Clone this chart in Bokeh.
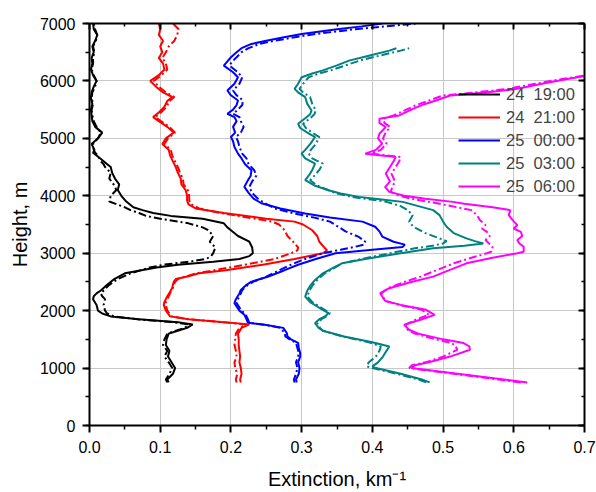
from bokeh.plotting import figure
from bokeh.models import (Range1d, LinearAxis, SingleIntervalTicker, FixedTicker, PrintfTickFormatter,
                          Legend, LegendItem, CustomJSTickFormatter)
from bokeh.embed import file_html
from bokeh.resources import INLINE

# ---------------- data ----------------
legend_labels = ["24  19:00", "24  21:00", "25  00:00", "25  03:00", "25  06:00"]
colors = ["#000000", "#ff0000", "#0000ff", "#008080", "#ff00ff"]

h_a = [750, 800, 900, 1000, 1100, 1200, 1300, 1400, 1500, 1600, 1650, 1700, 1760, 1800, 1850, 1900,
       1950, 2000, 2100, 2200, 2250, 2300, 2350, 2450, 2550, 2650, 2750, 2800, 2850, 2900, 2950, 3000,
       3100, 3200, 3300, 3400, 3450, 3520, 3600, 3650, 3700, 3750, 3800, 3900, 4000, 4100, 4200, 4300,
       4400, 4500, 4550, 4600, 4700, 4750, 4800, 4900, 5000, 5100, 5200, 5300, 5400, 5500, 5600, 5700,
       5800, 5900, 6000, 6100, 6200, 6300, 6400, 6500, 6600, 6700, 6800, 6900, 7000]
x_a = [0.112, 0.110, 0.118, 0.121, 0.116, 0.111, 0.113, 0.108, 0.109, 0.112, 0.125, 0.138, 0.146, 0.125,
       0.070, 0.030, 0.018, 0.012, 0.010, 0.005, 0.006, 0.010, 0.016, 0.025, 0.035, 0.050, 0.095, 0.125,
       0.175, 0.212, 0.226, 0.231, 0.230, 0.226, 0.210, 0.200, 0.195, 0.190, 0.160, 0.115, 0.090, 0.075,
       0.062, 0.052, 0.045, 0.040, 0.042, 0.036, 0.032, 0.030, 0.025, 0.020, 0.010, 0.005, 0.007, 0.003,
       0.012, 0.018, 0.008, 0.004, 0.003, 0.002, 0.004, 0.002, 0.003, 0.006, 0.010, 0.005, 0.002, 0.004,
       0.003, 0.006, 0.004, 0.008, 0.011, 0.006, 0.005]
x_a_dd = [0.110, 0.108, 0.113, 0.117, 0.112, 0.106, 0.110, 0.104, 0.106, 0.110, 0.122, 0.135, 0.140, 0.118,
          0.068, 0.035, 0.025, 0.022, 0.020, 0.022, 0.018, 0.016, 0.020, 0.028, 0.040, 0.058, 0.085, 0.105,
          0.140, 0.165, 0.172, 0.175, 0.178, 0.170, 0.175, 0.168, 0.160, 0.140, 0.100, 0.080, 0.070, 0.058,
          0.050, 0.028, 0.030, 0.038, 0.034, 0.028, 0.030, 0.022, 0.020, 0.016, 0.012, 0.008, 0.006, 0.005,
          0.012, 0.016, 0.010, 0.006, 0.004, 0.003, 0.005, 0.003, 0.004, 0.008, 0.010, 0.006, 0.003, 0.005,
          0.005, 0.007, 0.005, 0.009, 0.011, 0.008, 0.006]

h_b = [750, 800, 900, 1000, 1100, 1200, 1300, 1400, 1500, 1600, 1700, 1760, 1800, 1850, 1900, 2000, 2100,
       2150, 2250, 2330, 2400, 2500, 2550, 2600, 2650, 2700, 2800, 2900, 3000, 3050, 3100, 3200, 3300,
       3400, 3500, 3550, 3600, 3700, 3780, 3850, 3920, 4000, 4100, 4200, 4300, 4400, 4500, 4600, 4700,
       4800, 4900, 5000, 5100, 5200, 5300, 5370, 5450, 5550, 5650, 5720, 5800, 5900, 6000, 6100, 6200,
       6300, 6400, 6500, 6600, 6700, 6800, 6900, 7000]
x_b = [0.214, 0.213, 0.215, 0.214, 0.212, 0.213, 0.212, 0.211, 0.211, 0.210, 0.215, 0.226, 0.190, 0.140,
       0.114, 0.108, 0.105, 0.106, 0.110, 0.114, 0.117, 0.119, 0.122, 0.140, 0.155, 0.190, 0.245, 0.290,
       0.330, 0.336, 0.332, 0.325, 0.322, 0.315, 0.302, 0.290, 0.250, 0.190, 0.150, 0.140, 0.138, 0.138,
       0.136, 0.130, 0.129, 0.125, 0.122, 0.118, 0.114, 0.112, 0.103, 0.108, 0.119, 0.110, 0.098, 0.090,
       0.098, 0.106, 0.110, 0.117, 0.104, 0.094, 0.086, 0.098, 0.106, 0.104, 0.098, 0.103, 0.100, 0.104,
       0.098, 0.100, 0.098]
x_b_dd = [0.208, 0.207, 0.209, 0.206, 0.205, 0.208, 0.207, 0.205, 0.206, 0.207, 0.212, 0.222, 0.188, 0.140,
          0.116, 0.110, 0.108, 0.108, 0.112, 0.115, 0.118, 0.121, 0.125, 0.138, 0.150, 0.175, 0.220, 0.262,
          0.285, 0.294, 0.295, 0.288, 0.280, 0.276, 0.268, 0.258, 0.235, 0.185, 0.155, 0.144, 0.141, 0.141,
          0.139, 0.133, 0.132, 0.128, 0.125, 0.121, 0.117, 0.115, 0.106, 0.111, 0.121, 0.113, 0.101, 0.093,
          0.101, 0.109, 0.113, 0.120, 0.108, 0.098, 0.091, 0.102, 0.110, 0.108, 0.103, 0.108, 0.112, 0.120,
          0.124, 0.126, 0.118]

h_c = [750, 800, 900, 1000, 1100, 1200, 1260, 1350, 1440, 1500, 1550, 1610, 1700, 1750, 1790, 1850, 1930,
       2000, 2130, 2200, 2300, 2360, 2450, 2505, 2590, 2700, 2800, 2900, 3000, 3060, 3110, 3150, 3200,
       3290, 3380, 3460, 3550, 3620, 3690, 3780, 3870, 3950, 4050, 4155, 4250, 4350, 4444, 4550, 4650,
       4734, 4850, 4950, 5023, 5100, 5200, 5300, 5370, 5428, 5500, 5580, 5660, 5750, 5833, 5950, 6064,
       6150, 6267, 6340, 6412, 6500, 6570, 6644, 6700, 6760, 6817, 6900, 6950, 7000]
x_c = [0.293, 0.292, 0.296, 0.297, 0.295, 0.298, 0.298, 0.296, 0.295, 0.285, 0.280, 0.279, 0.274, 0.250,
       0.224, 0.222, 0.219, 0.212, 0.205, 0.207, 0.212, 0.214, 0.222, 0.229, 0.252, 0.275, 0.295, 0.320,
       0.348, 0.400, 0.443, 0.446, 0.430, 0.414, 0.410, 0.404, 0.386, 0.340, 0.305, 0.270, 0.243, 0.232,
       0.225, 0.219, 0.223, 0.228, 0.229, 0.220, 0.215, 0.210, 0.205, 0.203, 0.200, 0.206, 0.203, 0.208,
       0.205, 0.195, 0.203, 0.208, 0.210, 0.200, 0.195, 0.205, 0.210, 0.203, 0.190, 0.195, 0.200, 0.208,
       0.215, 0.229, 0.250, 0.275, 0.300, 0.350, 0.385, 0.414]
x_c_dd = [0.290, 0.289, 0.292, 0.294, 0.292, 0.295, 0.296, 0.294, 0.292, 0.283, 0.277, 0.276, 0.270, 0.250,
          0.226, 0.224, 0.221, 0.215, 0.208, 0.210, 0.214, 0.216, 0.224, 0.232, 0.250, 0.268, 0.285, 0.305,
          0.330, 0.355, 0.375, 0.388, 0.390, 0.380, 0.362, 0.352, 0.340, 0.318, 0.290, 0.262, 0.248, 0.238,
          0.230, 0.226, 0.230, 0.236, 0.233, 0.225, 0.222, 0.216, 0.212, 0.210, 0.207, 0.214, 0.218, 0.214,
          0.212, 0.203, 0.210, 0.216, 0.217, 0.208, 0.203, 0.212, 0.216, 0.210, 0.198, 0.202, 0.208, 0.215,
          0.225, 0.240, 0.262, 0.290, 0.320, 0.375, 0.420, 0.462]

h_d = [750, 800, 900, 1000, 1030, 1100, 1200, 1300, 1377, 1450, 1550, 1650, 1700, 1783, 1850, 1900, 1956,
       2050, 2150, 2245, 2350, 2450, 2535, 2650, 2750, 2824, 2900, 3000, 3085, 3130, 3170, 3210, 3258,
       3350, 3460, 3550, 3663, 3750, 3820, 3894, 3940, 3981, 4040, 4097, 4180, 4271, 4350, 4450, 4560,
       4650, 4734, 4800, 4900, 5023, 5100, 5180, 5255, 5350, 5420, 5486, 5600, 5717, 5800, 5862, 5950,
       6064, 6130, 6180, 6270, 6354, 6440, 6528, 6570]
x_d = [0.481, 0.470, 0.440, 0.405, 0.400, 0.408, 0.415, 0.420, 0.424, 0.400, 0.360, 0.330, 0.324, 0.319,
       0.325, 0.333, 0.338, 0.325, 0.312, 0.305, 0.308, 0.313, 0.319, 0.330, 0.345, 0.357, 0.390, 0.440,
       0.486, 0.530, 0.557, 0.545, 0.533, 0.515, 0.505, 0.500, 0.495, 0.486, 0.465, 0.443, 0.410, 0.381,
       0.355, 0.338, 0.318, 0.305, 0.310, 0.315, 0.319, 0.305, 0.300, 0.305, 0.312, 0.319, 0.308, 0.298,
       0.295, 0.305, 0.312, 0.314, 0.308, 0.305, 0.295, 0.290, 0.295, 0.300, 0.315, 0.329, 0.350, 0.367,
       0.395, 0.424, 0.434]
x_d_dd = [0.476, 0.465, 0.435, 0.400, 0.392, 0.395, 0.405, 0.410, 0.412, 0.395, 0.358, 0.330, 0.326, 0.322,
          0.328, 0.335, 0.340, 0.328, 0.315, 0.308, 0.311, 0.316, 0.322, 0.333, 0.347, 0.358, 0.385, 0.425,
          0.460, 0.485, 0.500, 0.505, 0.495, 0.475, 0.458, 0.452, 0.457, 0.450, 0.440, 0.420, 0.395, 0.370,
          0.350, 0.338, 0.322, 0.312, 0.318, 0.325, 0.330, 0.315, 0.310, 0.313, 0.320, 0.325, 0.315, 0.306,
          0.302, 0.312, 0.318, 0.320, 0.315, 0.312, 0.302, 0.297, 0.302, 0.310, 0.325, 0.340, 0.362, 0.382,
          0.410, 0.440, 0.452]

h_e = [750, 1000, 1050, 1100, 1200, 1319, 1380, 1436, 1500, 1600, 1667, 1753, 1850, 1927, 2014, 2100, 2170,
       2245, 2303, 2390, 2500, 2592, 2700, 2824, 2920, 3000, 3026, 3113, 3170, 3229, 3300, 3373, 3430,
       3490, 3580, 3663, 3750, 3800, 3860, 3894, 3950, 4000, 4068, 4150, 4250, 4387, 4500, 4600, 4676,
       4734, 4800, 4908, 5000, 5081, 5197, 5270, 5342, 5399, 5500, 5580, 5660, 5747, 5800, 5862, 5950,
       6020, 6094]
x_e = [0.619, 0.455, 0.460, 0.480, 0.510, 0.538, 0.537, 0.529, 0.500, 0.465, 0.452, 0.445, 0.470, 0.488,
       0.476, 0.440, 0.418, 0.414, 0.411, 0.424, 0.455, 0.486, 0.508, 0.533, 0.570, 0.605, 0.614, 0.614,
       0.608, 0.605, 0.612, 0.610, 0.600, 0.605, 0.598, 0.593, 0.595, 0.570, 0.530, 0.514, 0.475, 0.445,
       0.424, 0.418, 0.425, 0.419, 0.425, 0.430, 0.433, 0.390, 0.405, 0.414, 0.408, 0.410, 0.419, 0.410,
       0.410, 0.438, 0.455, 0.470, 0.490, 0.510, 0.560, 0.605, 0.640, 0.670, 0.705]
x_e_dd = [0.610, 0.452, 0.456, 0.475, 0.500, 0.520, 0.518, 0.512, 0.490, 0.460, 0.450, 0.447, 0.462, 0.480,
          0.470, 0.438, 0.418, 0.415, 0.413, 0.422, 0.445, 0.468, 0.490, 0.515, 0.540, 0.562, 0.568, 0.570,
          0.565, 0.560, 0.566, 0.562, 0.555, 0.560, 0.552, 0.548, 0.540, 0.520, 0.495, 0.480, 0.455, 0.438,
          0.426, 0.428, 0.432, 0.427, 0.433, 0.438, 0.440, 0.398, 0.412, 0.420, 0.415, 0.418, 0.425, 0.417,
          0.416, 0.430, 0.448, 0.462, 0.480, 0.500, 0.545, 0.592, 0.630, 0.662, 0.700]

x_ticks = [0.0, 0.1, 0.2, 0.3, 0.4, 0.5, 0.6, 0.7]
x_minor_ticks = [0.05, 0.15, 0.25, 0.35, 0.45, 0.55, 0.65]
y_tick_step = 1000

series = [(h_a, x_a, x_a_dd), (h_b, x_b, x_b_dd), (h_c, x_c, x_c_dd),
          (h_d, x_d, x_d_dd), (h_e, x_e, x_e_dd)]

FONT = "Liberation Sans"

p = figure(width=596, height=492, output_backend="svg", toolbar_location=None,
           x_range=Range1d(0, 0.7), y_range=Range1d(0, 7000),
           min_border_left=89, min_border_right=12, min_border_top=23, min_border_bottom=66,
           x_axis_label="Extinction, km\u207b\u00b9", y_axis_label="Height, m")
p.background_fill_color = "white"
p.border_fill_color = "white"
p.outline_line_color = None

xt = FixedTicker(ticks=x_ticks, minor_ticks=x_minor_ticks)
yt = SingleIntervalTicker(interval=y_tick_step, num_minor_ticks=2)

for ax in [p.xaxis[0], p.yaxis[0]]:
    ax.axis_line_width = 2
    ax.axis_line_color = "black"
    ax.major_tick_line_width = 2
    ax.minor_tick_line_width = 1.5
    ax.major_tick_out = 7
    ax.major_tick_in = 0
    ax.minor_tick_out = 4
    ax.minor_tick_in = 0
    ax.major_label_text_font = FONT
    ax.major_label_text_font_size = "16px"
    ax.major_label_text_color = "black"
    ax.axis_label_text_font = FONT
    ax.axis_label_text_font_size = "20px"
    ax.axis_label_text_font_style = "normal"
    ax.axis_label_text_color = "black"
p.xaxis[0].ticker = xt
p.yaxis[0].ticker = yt
p.xaxis[0].formatter = PrintfTickFormatter(format="%.1f")
p.xaxis[0].major_label_standoff = 8
p.xaxis[0].axis_label_standoff = 12
p.yaxis[0].major_label_standoff = 7
p.yaxis[0].axis_label_standoff = 6

blank = CustomJSTickFormatter(code="return '';")
for loc in ["above", "right"]:
    tk = FixedTicker(ticks=x_ticks, minor_ticks=x_minor_ticks) if loc == "above" else \
        SingleIntervalTicker(interval=y_tick_step, num_minor_ticks=2)
    ax = LinearAxis(ticker=tk, formatter=blank, major_label_standoff=0)
    ax.axis_line_width = 2
    ax.major_tick_line_width = 2
    ax.minor_tick_line_width = 1.5
    ax.major_tick_out = 0
    ax.major_tick_in = 6
    ax.minor_tick_out = 0
    ax.minor_tick_in = 3
    p.add_layout(ax, loc)

p.xgrid.ticker = xt
p.ygrid.ticker = yt
for g in [p.xgrid[0], p.ygrid[0]]:
    g.grid_line_color = "#c8c8c8"
    g.grid_line_width = 1

items = []
for (h, xs, xdd), col, lab in zip(series, colors, legend_labels):
    p.line(xdd, h, line_color=col, line_width=2, line_dash="8 3 2 3")
    r = p.line(xs, h, line_color=col, line_width=2)
    items.append(LegendItem(label=lab, renderers=[r]))

leg = Legend(items=items, location=(369, 229), background_fill_alpha=0, border_line_alpha=0,
             padding=0, margin=0, spacing=3, glyph_width=42, glyph_height=20, label_height=20,
             label_standoff=6, label_text_font=FONT, label_text_font_size="16.5px")
p.add_layout(leg, "center")

open("out.html", "w").write(file_html(p, INLINE))
